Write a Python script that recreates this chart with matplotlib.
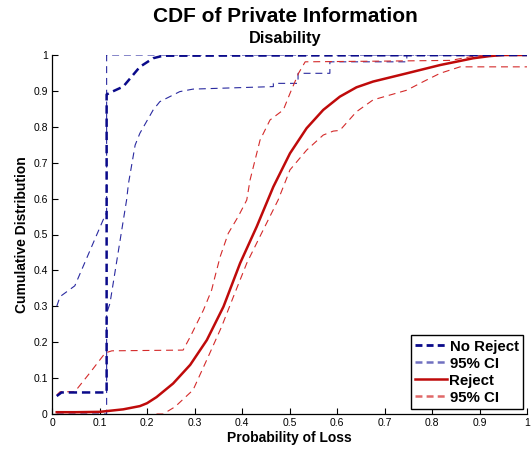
import matplotlib
matplotlib.use("Agg")
import matplotlib.pyplot as plt
from matplotlib.lines import Line2D

plt.rcParams['font.family'] = ['Liberation Sans', 'DejaVu Sans']
plt.rcParams['lines.scale_dashes'] = False

# --- data ---
noreject_x = [0.01, 0.02, 0.115, 0.115, 0.122, 0.15, 0.185, 0.213, 0.234, 1.0]
noreject_y = [0.05, 0.06, 0.06, 0.89, 0.895, 0.912, 0.967, 0.991, 0.998, 1.0]

noreject_hi_x = [0.01, 0.017, 0.048, 0.112, 0.115, 0.115, 1.0]
noreject_hi_y = [0.30, 0.327, 0.357, 0.554, 0.56, 1.0, 1.0]

noreject_lo_x = [0.01, 0.115, 0.115, 0.122, 0.157, 0.161, 0.175, 0.185, 0.213, 0.227,
                 0.269, 0.297, 0.466, 0.466, 0.518, 0.518, 0.585, 0.585, 0.747, 0.747, 1.0]
noreject_lo_y = [0.0, 0.0, 0.28, 0.308, 0.596, 0.642, 0.749, 0.782, 0.847, 0.87,
                 0.898, 0.905, 0.912, 0.921, 0.921, 0.949, 0.949, 0.981, 0.981, 1.0, 1.0]

reject_x = [0.01, 0.05, 0.1, 0.115, 0.15, 0.185, 0.2, 0.22, 0.255, 0.291, 0.326, 0.361,
            0.396, 0.431, 0.466, 0.501, 0.536, 0.571, 0.606, 0.641, 0.676, 0.747, 0.817,
            0.887, 0.922, 0.95, 1.0]
reject_y = [0.005, 0.005, 0.006, 0.008, 0.013, 0.022, 0.03, 0.047, 0.085, 0.137, 0.206,
            0.299, 0.42, 0.522, 0.633, 0.726, 0.796, 0.847, 0.884, 0.91, 0.926, 0.949,
            0.972, 0.991, 0.997, 1.0, 1.0]

reject_hi_x = [0.01, 0.017, 0.048, 0.08, 0.112, 0.126, 0.276, 0.291, 0.319, 0.336, 0.343,
               0.354, 0.371, 0.392, 0.41, 0.417, 0.438, 0.459, 0.487, 0.501, 0.519, 0.533,
               0.7, 0.84, 0.88, 0.92, 1.0]
reject_hi_y = [0.053, 0.062, 0.062, 0.115, 0.17, 0.176, 0.178, 0.215, 0.29, 0.345, 0.382,
               0.438, 0.503, 0.55, 0.596, 0.652, 0.763, 0.819, 0.847, 0.893, 0.949, 0.981,
               0.983, 0.985, 0.995, 1.0, 1.0]

reject_lo_x = [0.22, 0.234, 0.259, 0.297, 0.329, 0.357, 0.382, 0.41, 0.441, 0.476, 0.501,
               0.536, 0.571, 0.592, 0.606, 0.641, 0.676, 0.747, 0.782, 0.817, 0.859, 1.0]
reject_lo_y = [0.0, 0.0, 0.02, 0.067, 0.16, 0.243, 0.327, 0.42, 0.503, 0.596, 0.68,
               0.735, 0.777, 0.788, 0.79, 0.842, 0.875, 0.902, 0.926, 0.949, 0.967, 0.967]

ticks = [0, 0.1, 0.2, 0.3, 0.4, 0.5, 0.6, 0.7, 0.8, 0.9, 1]
tick_labels = ['0', '0.1', '0.2', '0.3', '0.4', '0.5', '0.6', '0.7', '0.8', '0.9', '1']

legend_labels = ['No Reject', '95% CI', 'Reject', '95% CI']

# --- figure ---
fig = plt.figure(figsize=(5.31, 4.53), dpi=100)
ax = fig.add_axes([52/531, 1-414/453, 475/531, 359/453])

navy = '#0a0a8a'
navy_thin = '#2a2aa0'
red = '#bf0a0a'
red_thin = '#d42a2a'

thin_dash = (5, 3.5)
thick_dash = (6, 3.5)

ax.plot(noreject_hi_x, noreject_hi_y, color=navy_thin, lw=0.8, dashes=thin_dash, zorder=2)
ax.plot(noreject_lo_x, noreject_lo_y, color=navy_thin, lw=0.8, dashes=thin_dash, zorder=2)
ax.plot(reject_hi_x, reject_hi_y, color=red_thin, lw=0.8, dashes=thin_dash, zorder=2)
ax.plot(reject_lo_x, reject_lo_y, color=red_thin, lw=0.8, dashes=thin_dash, zorder=2)
ax.plot(reject_x, reject_y, color=red, lw=1.8, zorder=3, solid_joinstyle='round')
ax.plot(noreject_x, noreject_y, color=navy, lw=1.8, dashes=thick_dash, zorder=4)

ax.set_xlim(0, 1)
ax.set_ylim(0, 1)
ax.set_xticks(ticks)
ax.set_xticklabels(tick_labels)
ax.set_yticks(ticks)
ax.set_yticklabels(tick_labels)
ax.tick_params(direction='in', length=4, width=0.8, labelsize=7.5, colors='black', pad=3)
for s in ['top', 'right']:
    ax.spines[s].set_visible(False)
for s in ['left', 'bottom']:
    ax.spines[s].set_linewidth(0.9)

ax.set_xlabel('Probability of Loss', fontsize=10, fontweight='bold', labelpad=2)
ax.set_ylabel('Cumulative Distribution', fontsize=10, fontweight='bold', labelpad=3)

fig.text(285/531, 1-17/453, 'CDF of Private Information', ha='center', va='center',
         fontsize=15, fontweight='bold')
fig.text(285/531, 1-39/453, 'Disability', ha='center', va='center',
         fontsize=11.8, fontweight='bold')

handles = [
    Line2D([], [], color=navy, lw=2.0, dashes=(5, 3)),
    Line2D([], [], color='#7070c0', lw=1.8, dashes=(5, 3)),
    Line2D([], [], color=red, lw=1.8),
    Line2D([], [], color='#e06868', lw=1.8, dashes=(5, 3)),
]
leg = fig.legend(handles, legend_labels, loc='lower right',
                 bbox_to_anchor=(523/531, 1-409/453),
                 bbox_transform=fig.transFigure, borderaxespad=0, fancybox=False,
                 edgecolor='black', framealpha=1, prop={'weight': 'bold', 'size': 10.8},
                 handlelength=2.1, handletextpad=0.2, labelspacing=0.2,
                 borderpad=0.3)
leg.get_frame().set_linewidth(1.0)

fig.savefig('out.png', dpi=100)
